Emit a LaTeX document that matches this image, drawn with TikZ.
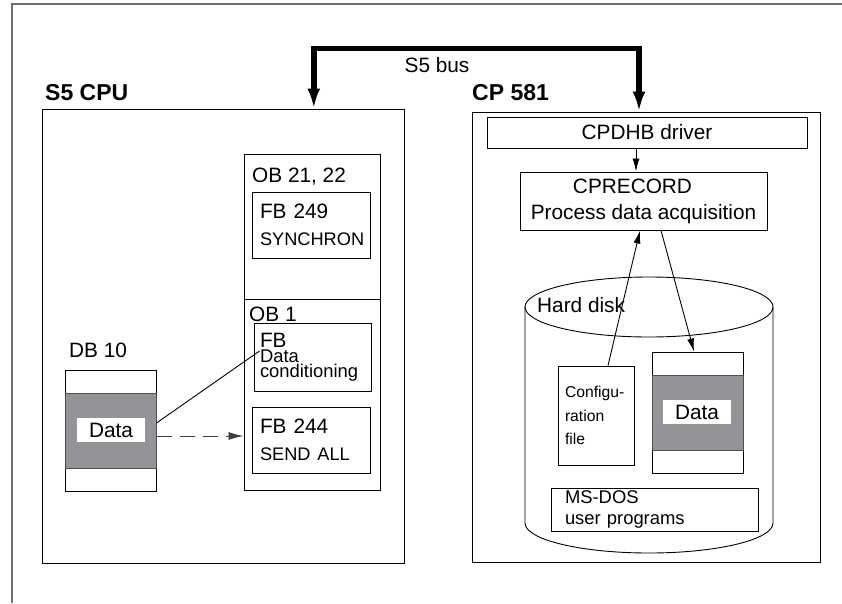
\documentclass[tikz,border=0pt]{standalone}
\usepackage{fontspec}
\setmainfont{Liberation Sans}
\usepackage{xcolor}
\definecolor{bandgray}{RGB}{147,148,152}
\definecolor{bandline}{RGB}{80,80,84}
\definecolor{framegray}{RGB}{110,110,110}
\usepackage{tikz}
\usetikzlibrary{
    arrows.meta,
    positioning
}

\begin{document}
\begin{tikzpicture}[
        x=1pt, y=-1pt,
        box/.style={rectangle, draw=black, line width=1pt, inner sep=0pt},
        heading/.style={font=\bfseries\fontsize{23}{27}\selectfont, inner sep=0pt, anchor=base west},
        lbl/.style={font=\fontsize{20.8}{25}\selectfont, inner sep=0pt, anchor=base west},
        fbtext/.style={box, align=left, inner xsep=8pt, text width=102pt, minimum height=#1},
        band/.style={fill=bandgray, draw=bandline, line width=1pt, minimum width=91pt, minimum height=75pt, inner sep=0pt},
        datatag/.style={fill=white, minimum width=68pt, minimum height=24pt, inner sep=0pt, font=\fontsize{20.8}{25}\selectfont},
        arrow/.style={-{Latex[length=13pt,width=7pt]}, line width=0.9pt},
        dasharrow/.style={-{Latex[length=15pt,width=8pt]}, line width=0.9pt, draw=black!75, dash pattern=on 15pt off 8pt},
        bus/.style={{Latex[length=20pt,width=13pt]}-{Latex[length=20pt,width=13pt]}, line width=5.5pt}
    ]
        \useasboundingbox (0,0) rectangle (842,603);
        \draw[framegray, line width=1.5pt] (842,4) -- (12,4) -- (12,603);

        \node[box, minimum width=362pt, minimum height=454pt] (cpu) at (223,336) {};
        \node[heading] (cpuname) at (45,100) {S5 CPU};

        \node[box, minimum width=136pt, minimum height=145pt] (obint) at (312,226.5) {};
        \node[box, minimum width=136pt, minimum height=191pt] (obcyc) at (312,394.5) {};
        \node[lbl] (obintname) at (252,182) {OB 21, 22};
        \node[lbl] (obcycname) at (249,321) {OB 1};

        \node[fbtext=66pt, font=\fontsize{20.8}{26.7}\selectfont] (fbsync) at (311,225) {FB 249\\{\fontsize{18.2}{26.7}\selectfont SYNCHRON}};
        \node[fbtext=68pt, text width=105pt, inner xsep=6pt, font=\fontsize{20.8}{15}\selectfont] (fbcond) at (312.5,357) {FB\\\fontsize{18.4}{15}\selectfont Data\\conditioning};
        \node[fbtext=66pt, font=\fontsize{20.8}{26.7}\selectfont] (fbsend) at (311,440) {FB 244\\{\fontsize{18.2}{26.7}\selectfont SEND ALL}};

        \node[lbl] (dbname) at (69,357) {DB 10};
        \node[box, minimum width=91pt, minimum height=121pt] (db) at (110.5,430.5) {};
        \node[band] (dbband) at (db.center) {};
        \node[datatag] (dbtag) at (111,430) {Data};

        \draw[line width=0.9pt] ([yshift=7.5pt]db.east) -- ([xshift=6pt,yshift=6pt]fbcond.west);
        \draw[dasharrow] ([yshift=-5.5pt]db.east) -- ([yshift=-5.5pt]db.east -| obcyc.west);

        \node[box, minimum width=348pt, minimum height=450pt] (cp) at (646,337) {};
        \node[heading] (cpname) at (472,100) {CP 581};
        \node[box, minimum width=320pt, minimum height=31pt, font=\fontsize{20.8}{25}\selectfont] (drv) at (647,132.5) {CPDHB driver};
        \node[box, minimum width=247pt, minimum height=58pt, align=center, font=\fontsize{20.8}{26}\selectfont] (rec) at (643.5,201) {CPRECORD\hspace*{22pt}\\Process data acquisition};

        \draw[line width=0.9pt] (649,307) ellipse [x radius=124pt, y radius=30pt];
        \draw[line width=0.9pt] (525,307) -- (525,523) arc[start angle=180, end angle=360, x radius=124pt, y radius=30pt] -- (773,307);
        \node[lbl] (diskname) at (537,312.7) {Hard disk};

        \node[box, minimum width=76pt, minimum height=99pt, align=left, text width=62pt, inner xsep=7pt, font=\fontsize{15.7}{23.4}\selectfont] (cfg) at (596,415.5) {Configu-\\ration\\file};

        \node[box, minimum width=91pt, minimum height=121pt] (dat) at (697.5,412.5) {};
        \node[band] (datband) at (dat.center) {};
        \node[datatag] (dattag) at (697,412) {Data};

        \node[box, minimum height=43pt, text width=179pt, inner xsep=14pt, align=left, font=\fontsize{18.4}{21}\selectfont] (msdos) at (654.5,509.5) {MS-DOS\\user programs};

        \draw[arrow] ([xshift=-11pt]drv.south) -- ([xshift=-7.5pt]rec.north);
        \draw[arrow] ([xshift=12pt]cfg.north) -- ([xshift=-3.5pt]rec.south);
        \draw[arrow] ([xshift=17.5pt]rec.south) -- ([xshift=-3.5pt]dat.north);

        \coordinate (busl) at (313.8,48.5);
        \coordinate (busr) at (639,48.5);
        \draw[bus] (busl |- cpu.north) -- (busl) -- (busr) -- (busr |- cp.north);
        \node[font=\fontsize{20.8}{25}\selectfont, inner sep=0pt, anchor=base] (busname) at (437,72.7) {S5 bus};
    \end{tikzpicture}
\end{document}
